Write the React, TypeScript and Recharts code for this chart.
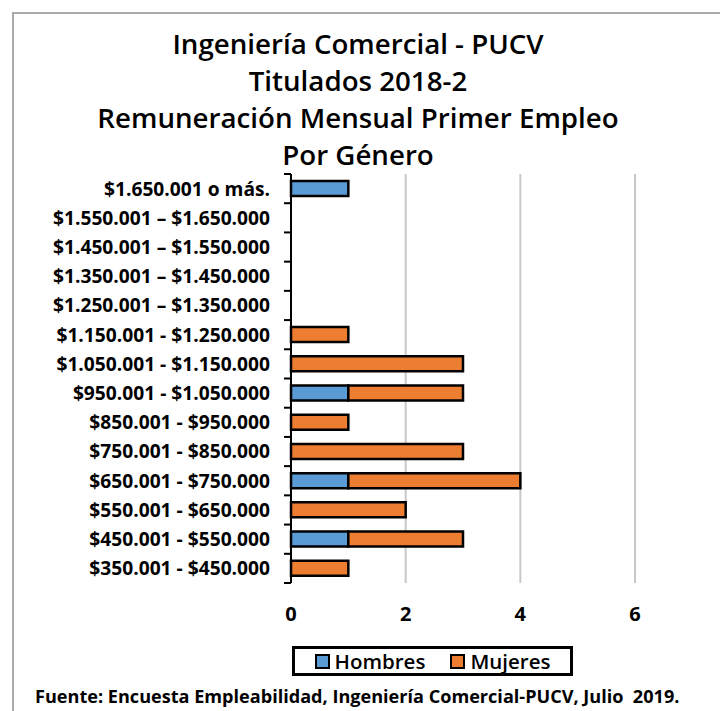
import React from "react";
import { BarChart, Bar, XAxis, YAxis, CartesianGrid } from "recharts";

const categories = [
  "$1.650.001 o más.",
  "$1.550.001 – $1.650.000",
  "$1.450.001 – $1.550.000",
  "$1.350.001 – $1.450.000",
  "$1.250.001 – $1.350.000",
  "$1.150.001 - $1.250.000",
  "$1.050.001 - $1.150.000",
  "$950.001 - $1.050.000",
  "$850.001 - $950.000",
  "$750.001 - $850.000",
  "$650.001 - $750.000",
  "$550.001 - $650.000",
  "$450.001 - $550.000",
  "$350.001 - $450.000",
];
const hombres = [1, 0, 0, 0, 0, 0, 0, 1, 0, 0, 1, 0, 1, 0];
const mujeres = [0, 0, 0, 0, 0, 1, 3, 2, 1, 3, 3, 2, 2, 1];
const xTicks = [0, 2, 4, 6];
const titleLines = [
  "Ingeniería Comercial - PUCV",
  "Titulados 2018-2",
  "Remuneración Mensual Primer Empleo",
  "Por Género",
];
const footer = "Fuente: Encuesta Empleabilidad, Ingeniería Comercial-PUCV, Julio  2019.";
const seriesNames = ["Hombres", "Mujeres"];

const data = categories.map((c, i) => ({ range: c, Hombres: hombres[i], Mujeres: mujeres[i] }));

const W = 720;
const H = 711;
const XAXIS_H = 30;
const M = { top: 174, right: 85, bottom: 128 - XAXIS_H, left: 0 };
const BAND = (H - M.top - M.bottom - XAXIS_H) / categories.length;
const FONT = "'Open Sans', sans-serif";
const BLUE = "#5B9BD5";
const ORANGE = "#ED7D31";
const COLORS = [BLUE, ORANGE];

const YTick = (props: any) => {
  const { x, y, payload, index } = props;
  return (
    <g>
      <text
        x={x - 21}
        y={y}
        dy="0.36em"
        textAnchor="end"
        fontFamily={FONT}
        fontWeight={700}
        fontSize={19.2}
        fill="#000"
      >
        {payload.value}
      </text>
      <line x1={x - 7} x2={x} y1={y - BAND / 2} y2={y - BAND / 2} stroke="#000" strokeWidth={2} />
      {index === categories.length - 1 && (
        <line x1={x - 7} x2={x} y1={y + BAND / 2} y2={y + BAND / 2} stroke="#000" strokeWidth={2} />
      )}
    </g>
  );
};

const LegendBox = () => (
  <div
    style={{
      position: "absolute",
      left: 292,
      top: 646,
      boxSizing: "border-box",
      width: 281,
      height: 30,
      border: "3px solid #000",
      display: "flex",
      alignItems: "center",
      justifyContent: "center",
      gap: 25,
      fontFamily: FONT,
      fontSize: 20.5,
      fontWeight: 600,
      color: "#000",
      background: "#fff",
    }}
  >
    {seriesNames.map((name, i) => (
      <div key={name} style={{ display: "flex", alignItems: "center", gap: 5 }}>
        <span
          style={{
            display: "inline-block",
            boxSizing: "border-box",
            width: 15,
            height: 15,
            background: COLORS[i],
            border: "2.5px solid #000",
          }}
        />
        <span>{name}</span>
      </div>
    ))}
  </div>
);

export default function App() {
  return (
    <div
      style={{
        position: "absolute",
        left: 0,
        top: 0,
        width: W,
        height: H,
        overflow: "hidden",
        background: "#fff",
      }}
    >
      <div
        style={{
          position: "absolute",
          left: 12,
          top: 12,
          width: 900,
          height: 900,
          border: "2px solid #aaaaaa",
        }}
      />
      <div style={{ position: "absolute", left: 0, top: 0 }}>
        <BarChart width={W} height={H} data={data} layout="vertical" margin={M} barSize={15}>
          <CartesianGrid horizontal={false} stroke="#c8c8c8" strokeWidth={2} />
          <XAxis
            type="number"
            domain={[0, 6]}
            ticks={xTicks}
            height={XAXIS_H}
            axisLine={false}
            tickLine={false}
            tickSize={0}
            tickMargin={24}
            tick={{ fill: "#000", fontSize: 20, fontWeight: 700, fontFamily: FONT }}
          />
          <YAxis
            type="category"
            dataKey="range"
            width={291}
            axisLine={{ stroke: "#000", strokeWidth: 2 }}
            tickLine={false}
            tickSize={0}
            tickMargin={0}
            interval={0}
            tick={<YTick />}
          />
          {seriesNames.map((name, i) => (
            <Bar
              key={name}
              dataKey={name}
              stackId="a"
              fill={COLORS[i]}
              stroke="#000"
              strokeWidth={2.5}
              isAnimationActive={false}
            />
          ))}
        </BarChart>
      </div>
      <LegendBox />
      {titleLines.map((t, i) => (
        <div
          key={t}
          style={{
            position: "absolute",
            left: 0,
            width: 716,
            top: 26 + i * 37,
            textAlign: "center",
            fontFamily: FONT,
            fontWeight: 600,
            fontSize: 27.7,
            lineHeight: "34px",
            color: "#000",
          }}
        >
          {t}
        </div>
      ))}
      <div
        style={{
          position: "absolute",
          left: 35,
          top: 685,
          fontFamily: FONT,
          fontWeight: 700,
          fontSize: 18.1,
          lineHeight: "22px",
          color: "#000",
          whiteSpace: "pre",
        }}
      >
        {footer}
      </div>
    </div>
  );
}
